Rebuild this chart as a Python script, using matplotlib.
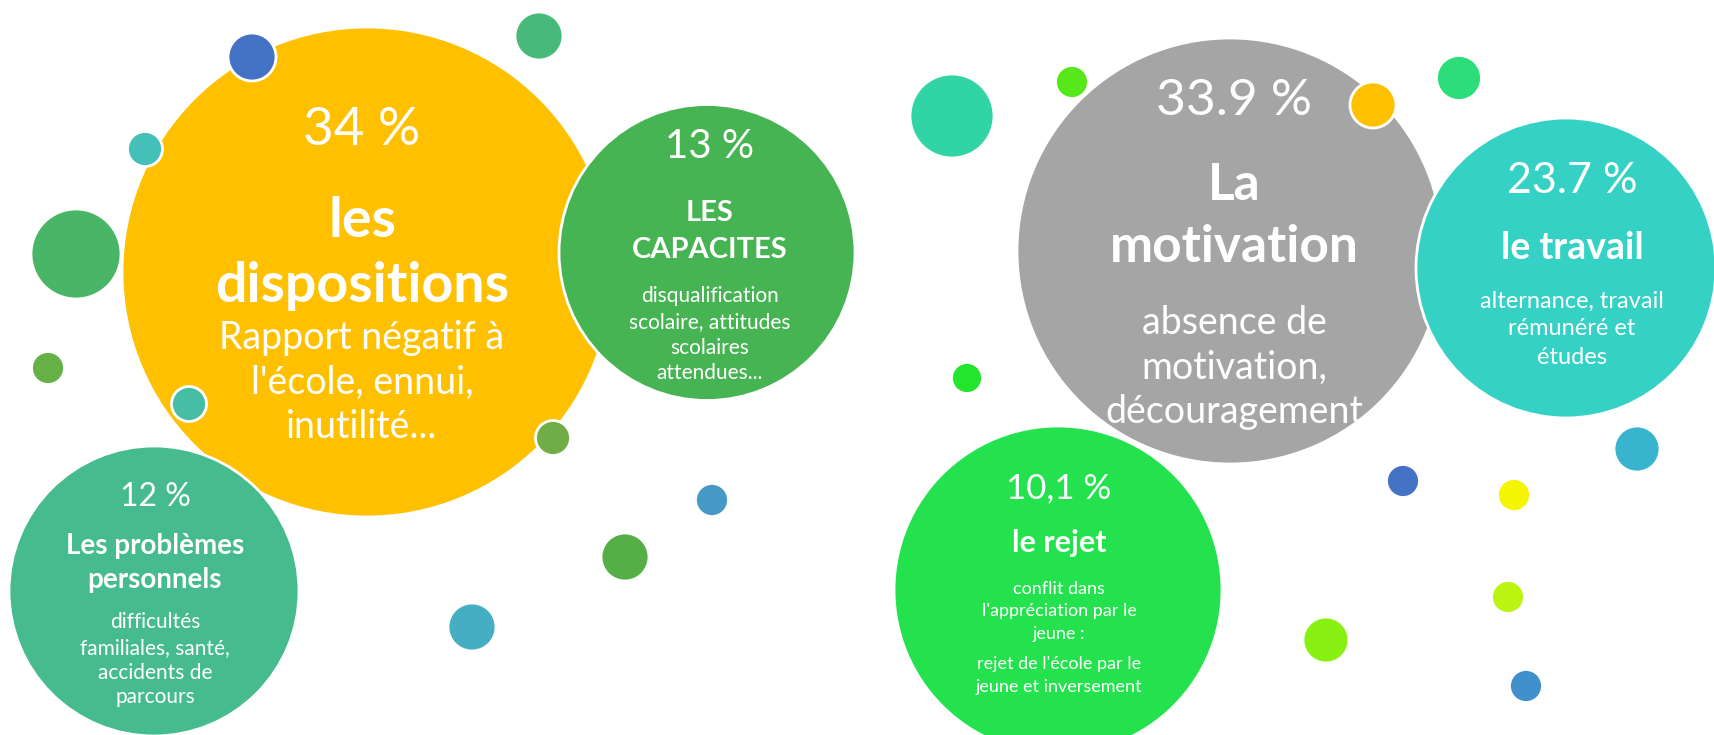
import matplotlib.pyplot as plt
from matplotlib.patches import Circle

# Données : pourcentages, titres et descriptions de chaque bulle
pourcentages = ['34 %', '13 %', '12 %', '33.9 %', '23.7 %', '10,1 %']
titres = [['les', 'dispositions'],
          ['LES', 'CAPACITES'],
          ['Les problèmes', 'personnels'],
          ['La', 'motivation'],
          ['le travail'],
          ['le rejet']]
descriptions = [["Rapport négatif à", "l'école, ennui,", "inutilité..."],
                ['disqualification', 'scolaire, attitudes', 'scolaires', 'attendues...'],
                ['difficultés', 'familiales, santé,', 'accidents de', 'parcours'],
                ['absence de', 'motivation,', 'découragement'],
                ['alternance, travail', 'rémunéré et', 'études'],
                ['conflit dans', "l'appréciation par le", 'jeune :',
                 "rejet de l'école par le", 'jeune et inversement']]

# Mise en page (pixels) : centre, rayon, couleur des grandes bulles
bulles_x = [367, 707, 154, 1230, 1566, 1058]
bulles_y = [272, 252.5, 591, 251, 268, 590]
bulles_r = [245, 148, 145, 213, 150, 164]
bulles_c = ['#FFC000', '#47B453', '#45BB8E', '#A5A5A5', '#35D1C5', '#24E24E']

# lignes de base du texte (pourcentage, titre, description)
base_pct = [145, 158, 506, 115, 193, 498]
base_titre = [[237, 302], [221, 258], [554, 588], [200, 262], [259], [552]]
base_desc = [[349, 394, 438], [302, 328, 354, 379], [628, 654, 679, 703],
             [334, 379, 423], [308, 335, 364], [594, 616, 639, 669, 692]]
texte_x = [362, 710, 155, 1234, 1572, 1059]
taille_pct = [38, 29, 23, 37, 31, 25]
taille_titre = [40, 21, 20, 37, 27, 22]
taille_desc = [27, 15, 15, 27, 17, 13]

# petites bulles décoratives : x, y, rayon, couleur, au-dessus ?
petites_x = [252, 539, 145, 76, 48, 189, 553, 712, 625, 472,
             952, 1072, 1373, 1459, 967, 1403, 1514, 1637, 1508, 1326, 1526]
petites_y = [57, 36, 149, 254, 368, 404, 438, 500, 557, 627,
             116, 82, 105, 78, 378, 481, 495, 449, 597, 640, 686]
petites_r = [24, 24, 17.5, 45, 16.5, 17.5, 17.5, 16.5, 24, 24,
             42, 16.5, 23, 22.5, 15.5, 16.5, 16.5, 23, 16.5, 23, 16.5]
petites_c = ['#4472C4', '#47B97A', '#45C0B9', '#49B566', '#66B146', '#46BEA6',
             '#71AD47', '#4599C5', '#55AF46', '#45AEC2',
             '#31D5A5', '#56E81A', '#FFC000', '#2CDD7A', '#22E62E', '#4472C4',
             '#F5F500', '#39B4CE', '#BCF412', '#88F012', '#3F90CB']
petites_z = [3, 3, 3, 0, 3, 3, 3, 3, 3, 3, 3, 3, 3, 3, 3, 3, 3, 3, 3, 3, 3]

plt.rcParams['font.family'] = ['Lato', 'DejaVu Sans']

fig = plt.figure(figsize=(17.14, 7.35), dpi=100)
ax = fig.add_axes([0, 0, 1, 1])
ax.set_xlim(0, 1714)
ax.set_ylim(735, 0)
ax.set_aspect('equal')
ax.axis('off')

# grandes bulles
for i in range(len(bulles_x)):
    z = 1 if i in (0, 3) else 2
    ax.add_patch(Circle((bulles_x[i], bulles_y[i]), bulles_r[i], facecolor=bulles_c[i],
                        edgecolor='white', linewidth=2, zorder=z))

# petites bulles
for x, y, r, c, z in zip(petites_x, petites_y, petites_r, petites_c, petites_z):
    ax.add_patch(Circle((x, y), r, facecolor=c, edgecolor='white', linewidth=2, zorder=z))

# textes
for i in range(len(pourcentages)):
    tx = texte_x[i]
    ax.text(tx, base_pct[i], pourcentages[i], color='white', fontsize=taille_pct[i],
            ha='center', va='baseline', zorder=5)
    for ligne, yb in zip(titres[i], base_titre[i]):
        ax.text(tx, yb, ligne, color='white', fontsize=taille_titre[i], fontweight='bold',
                ha='center', va='baseline', zorder=5)
    for ligne, yb in zip(descriptions[i], base_desc[i]):
        ax.text(tx, yb, ligne, color='white', fontsize=taille_desc[i],
                ha='center', va='baseline', zorder=5)

fig.savefig('out.png', dpi=100, facecolor='white')
